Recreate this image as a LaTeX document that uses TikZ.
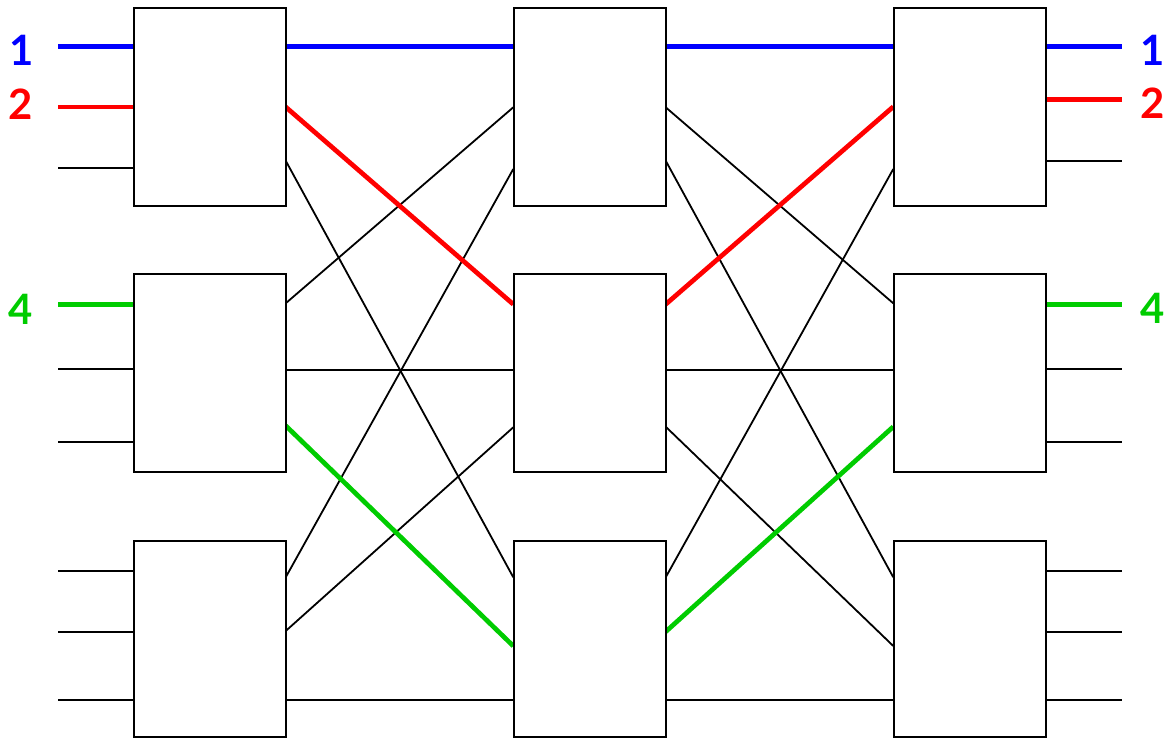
\documentclass[tikz,border=0pt]{standalone}
\usepackage{fontspec}
\newfontfamily\labfont{Lato}
\definecolor{cblue}{RGB}{0,0,255}
\definecolor{cred}{RGB}{255,0,0}
\definecolor{cgreen}{RGB}{0,204,0}
\begin{document}
\begin{tikzpicture}[x=1bp,y=-1bp,
  sw/.style={draw=black,line width=2bp,fill=white,minimum width=152bp,inner sep=0pt},
  wire/.style={line width=1.8bp,black},
  bwire/.style={line width=4.7bp,cblue},
  rwire/.style={line width=4.7bp,cred},
  gwire/.style={line width=4.7bp,cgreen},
  lab/.style={font=\labfont\bfseries\fontsize{42}{42}\selectfont,inner sep=0pt,anchor=center}]
\useasboundingbox (0,0) rectangle (1166,738);

% ---------- ports (named coordinates) ----------
% left column inputs (free ends)
\coordinate (a1) at (58,46.3);  \coordinate (a2) at (58,107);  \coordinate (a3) at (58,168.3);
\coordinate (a4) at (58,304.3); \coordinate (a5) at (58,369.3); \coordinate (a6) at (58,441.7);
\coordinate (a7) at (58,570.7); \coordinate (a8) at (58,631.7); \coordinate (a9) at (58,700);
% left boxes, input side
\coordinate (Li1) at (134,46.3);  \coordinate (Li2) at (134,107);  \coordinate (Li3) at (134,168.3);
\coordinate (Li4) at (134,304.3); \coordinate (Li5) at (134,369.3); \coordinate (Li6) at (134,441.7);
\coordinate (Li7) at (134,570.7); \coordinate (Li8) at (134,631.7); \coordinate (Li9) at (134,700);
% left boxes, output side
\coordinate (Lo1) at (285.7,46.3);  \coordinate (Lo2) at (285.7,107);   \coordinate (Lo3) at (285.7,160.7);
\coordinate (Lo4) at (285.7,303.3); \coordinate (Lo5) at (285.7,370);   \coordinate (Lo6) at (285.7,425.7);
\coordinate (Lo7) at (285.7,577.3); \coordinate (Lo8) at (285.7,631);   \coordinate (Lo9) at (285.7,700);
% middle boxes, input side
\coordinate (Mi1) at (513.3,46.3);  \coordinate (Mi2) at (513.3,107.3); \coordinate (Mi3) at (513.3,169);
\coordinate (Mi4) at (513.3,304.3); \coordinate (Mi5) at (513.3,370);   \coordinate (Mi6) at (513.3,427.3);
\coordinate (Mi7) at (513.3,577.3); \coordinate (Mi8) at (513.3,646);   \coordinate (Mi9) at (513.3,700);
% middle boxes, output side
\coordinate (Mo1) at (665.7,46.3);  \coordinate (Mo2) at (665.7,107.3); \coordinate (Mo3) at (665.7,160.7);
\coordinate (Mo4) at (665.7,304.3); \coordinate (Mo5) at (665.7,370);   \coordinate (Mo6) at (665.7,426.7);
\coordinate (Mo7) at (665.7,577.3); \coordinate (Mo8) at (665.7,631.7); \coordinate (Mo9) at (665.7,700);
% right boxes, input side
\coordinate (Ri1) at (893.3,46.3);  \coordinate (Ri2) at (893.3,106.7); \coordinate (Ri3) at (893.3,169);
\coordinate (Ri4) at (893.3,303.3); \coordinate (Ri5) at (893.3,370);   \coordinate (Ri6) at (893.3,426.7);
\coordinate (Ri7) at (893.3,577.3); \coordinate (Ri8) at (893.3,646);   \coordinate (Ri9) at (893.3,700);
% right boxes, output side
\coordinate (Ro1) at (1045.7,46.3);  \coordinate (Ro2) at (1045.7,99.3);  \coordinate (Ro3) at (1045.7,160.7);
\coordinate (Ro4) at (1045.7,304.3); \coordinate (Ro5) at (1045.7,369.3); \coordinate (Ro6) at (1045.7,441.7);
\coordinate (Ro7) at (1045.7,570.7); \coordinate (Ro8) at (1045.7,631.7); \coordinate (Ro9) at (1045.7,700);
% right free ends
\coordinate (z1) at (1122,46.3);  \coordinate (z2) at (1122,99.3);  \coordinate (z3) at (1122,160.7);
\coordinate (z4) at (1122,304.3); \coordinate (z5) at (1122,369.3); \coordinate (z6) at (1122,441.7);
\coordinate (z7) at (1122,570.7); \coordinate (z8) at (1122,631.7); \coordinate (z9) at (1122,700);

% ---------- inputs / outputs ----------
\draw[bwire] (a1) -- (Li1);
\draw[rwire] (a2) -- (Li2);
\draw[wire] (a3) -- (Li3);
\draw[gwire] (a4) -- (Li4);
\draw[wire] (a5) -- (Li5);
\draw[wire] (a6) -- (Li6);
\draw[wire] (a7) -- (Li7);
\draw[wire] (a8) -- (Li8);
\draw[wire] (a9) -- (Li9);

\draw[bwire] (Ro1) -- (z1);
\draw[rwire] (Ro2) -- (z2);
\draw[wire] (Ro3) -- (z3);
\draw[gwire] (Ro4) -- (z4);
\draw[wire] (Ro5) -- (z5);
\draw[wire] (Ro6) -- (z6);
\draw[wire] (Ro7) -- (z7);
\draw[wire] (Ro8) -- (z8);
\draw[wire] (Ro9) -- (z9);

% ---------- left -> middle ----------
\draw[wire] (Lo3) -- (Mi7);
\draw[wire] (Lo4) -- (Mi2);
\draw[wire] (Lo5) -- (Mi5);
\draw[wire] (Lo7) -- (Mi3);
\draw[wire] (Lo8) -- (Mi6);
\draw[wire] (Lo9) -- (Mi9);
\draw[bwire] (Lo1) -- (Mi1);
\draw[rwire] (Lo2) -- (Mi4);
\draw[gwire] (Lo6) -- (Mi8);

% ---------- middle -> right ----------
\draw[wire] (Mo2) -- (Ri4);
\draw[wire] (Mo3) -- (Ri7);
\draw[wire] (Mo5) -- (Ri5);
\draw[wire] (Mo6) -- (Ri8);
\draw[wire] (Mo7) -- (Ri3);
\draw[wire] (Mo9) -- (Ri9);
\draw[bwire] (Mo1) -- (Ri1);
\draw[rwire] (Mo4) -- (Ri2);
\draw[gwire] (Mo8) -- (Ri6);

% ---------- switch boxes ----------
\node[sw,minimum height=198bp] (L1) at (209.85,107) {};
\node[sw,minimum height=197.4bp] (L2) at (209.85,373) {};
\node[sw,minimum height=196.3bp] (L3) at (209.85,638.85) {};
\node[sw,minimum height=198bp] (M1) at (589.5,107) {};
\node[sw,minimum height=197.4bp] (M2) at (589.5,373) {};
\node[sw,minimum height=196.3bp] (M3) at (589.5,638.85) {};
\node[sw,minimum height=198bp] (R1) at (969.5,107) {};
\node[sw,minimum height=197.4bp] (R2) at (969.5,373) {};
\node[sw,minimum height=196.3bp] (R3) at (969.5,638.85) {};

% ---------- labels ----------
\node[lab,text=cblue] (l1) at (22,50.5) {1};
\node[lab,text=cred] (l2) at (21,104) {2};
\node[lab,text=cgreen] (l4) at (20.5,309) {4};
\node[lab,text=cblue] (r1) at (1153,50.5) {1};
\node[lab,text=cred] (r2) at (1152.5,103) {2};
\node[lab,text=cgreen] (r4) at (1152.5,308.5) {4};
\end{tikzpicture}
\end{document}
